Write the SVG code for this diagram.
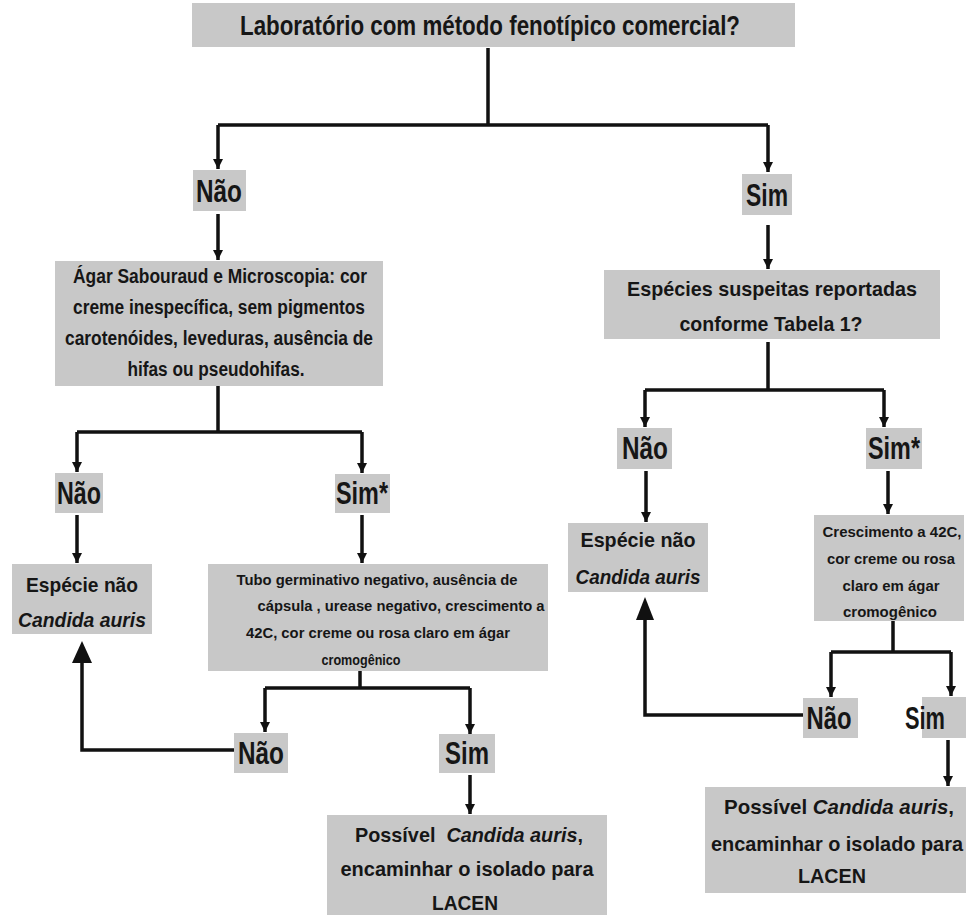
<svg xmlns="http://www.w3.org/2000/svg" width="966" height="915" viewBox="0 0 966 915">
<style>
.box{fill:#c8c8c8}
text{font-family:"Liberation Sans",Arial,sans-serif;font-weight:bold;fill:#161616;text-anchor:middle}
.t24{font-size:27px}
.lab{font-size:31px}
.t18{font-size:20px}
.t20{font-size:21px}
.t14{font-size:15.5px}
.ln{fill:none;stroke:#111;stroke-width:3.5}
.ar{fill:none;stroke:#111;stroke-width:3.5;marker-end:url(#ah)}
.big{fill:#111}
</style>
<defs>
<marker id="ah" markerUnits="userSpaceOnUse" markerWidth="12" markerHeight="10" refX="10" refY="5" orient="auto">
<path d="M0,0 L10,5 L0,10 z" fill="#111"/>
</marker>
</defs>
<rect width="966" height="915" fill="#fff"/>

<g id="connectors">
<path class="ln" d="M488,48 V125 M218,125 H768"/>
<path class="ar" d="M218,125 V169"/>
<path class="ar" d="M768,125 V172"/>
<path class="ar" d="M218,214 V260"/>
<path class="ar" d="M768,225 V269"/>
<path class="ln" d="M218,386 V432 M77,432 H362"/>
<path class="ar" d="M77,432 V472"/>
<path class="ar" d="M362,432 V473"/>
<path class="ar" d="M77,515 V563"/>
<path class="ar" d="M362,515 V563"/>
<path class="ln" d="M360,671 V688 M265,688 H470"/>
<path class="ar" d="M265,688 V732"/>
<path class="ar" d="M470,688 V734"/>
<path class="ln" d="M234,750 H82 V660"/>
<polygon class="big" points="72,663 92,663 82,641"/>
<path class="ar" d="M470,775 V814"/>
<path class="ln" d="M768,342 V390 M645,390 H884"/>
<path class="ar" d="M645,390 V427"/>
<path class="ar" d="M884,390 V427"/>
<path class="ar" d="M646,471 V522"/>
<path class="ar" d="M888,471 V514"/>
<path class="ln" d="M893,621 V652 M831,652 H951"/>
<path class="ar" d="M831,652 V697"/>
<path class="ar" d="M951,652 V696"/>
<path class="ln" d="M803,715 H645 V618"/>
<polygon class="big" points="636,620 654,620 645,597"/>
<path class="ar" d="M948,740 V786"/>
</g>

<g id="n-top">
<rect class="box" x="192" y="3" width="603" height="44"/>
<text class="t24" x="490" y="35" textLength="500" lengthAdjust="spacingAndGlyphs">Laboratório com método fenotípico comercial?</text>
</g>

<g id="n-nao1">
<rect class="box" x="193" y="170" width="53" height="41"/>
<text class="lab" x="219" y="202" textLength="46" lengthAdjust="spacingAndGlyphs">Não</text>
</g>

<g id="n-sim1">
<rect class="box" x="742" y="174" width="50" height="41"/>
<text class="lab" x="767" y="206" textLength="42" lengthAdjust="spacingAndGlyphs">Sim</text>
</g>

<g id="n-agar">
<rect class="box" x="55" y="261" width="328" height="125"/>
<text class="t18" x="220" y="283" textLength="294" lengthAdjust="spacingAndGlyphs">Ágar Sabouraud e Microscopia: cor</text>
<text class="t18" x="219" y="314" textLength="292" lengthAdjust="spacingAndGlyphs">creme inespecífica, sem pigmentos</text>
<text class="t18" x="219" y="345" textLength="308" lengthAdjust="spacingAndGlyphs">carotenóides, leveduras, ausência de</text>
<text class="t18" x="216" y="376" textLength="177" lengthAdjust="spacingAndGlyphs">hifas ou pseudohifas.</text>
</g>

<g id="n-especies">
<rect class="box" x="604" y="270" width="336" height="69"/>
<text class="t20" x="772" y="296" textLength="290" lengthAdjust="spacingAndGlyphs">Espécies suspeitas reportadas</text>
<text class="t20" x="771" y="331" textLength="183" lengthAdjust="spacingAndGlyphs">conforme Tabela 1?</text>
</g>

<g id="n-nao2l">
<rect class="box" x="55" y="473" width="48" height="40"/>
<text class="lab" x="79" y="504" textLength="44" lengthAdjust="spacingAndGlyphs">Não</text>
</g>

<g id="n-sim2l">
<rect class="box" x="335" y="474" width="55" height="39"/>
<text class="lab" x="362" y="504" textLength="52" lengthAdjust="spacingAndGlyphs">Sim*</text>
</g>

<g id="n-esp-l">
<rect class="box" x="12" y="564" width="140" height="70"/>
<text class="t20" x="82" y="592" textLength="112" lengthAdjust="spacingAndGlyphs">Espécie não</text>
<text class="t20" x="82" y="627" textLength="128" lengthAdjust="spacingAndGlyphs" font-style="italic">Candida auris</text>
</g>

<g id="n-tubo">
<rect class="box" x="208" y="564" width="340" height="107"/>
<text class="t14" x="377" y="585" textLength="281" lengthAdjust="spacingAndGlyphs">Tubo germinativo negativo, ausência de</text>
<text class="t14" x="401" y="611" textLength="287" lengthAdjust="spacingAndGlyphs">cápsula  , urease negativo, crescimento a</text>
<text class="t14" x="378" y="638" textLength="264" lengthAdjust="spacingAndGlyphs">42C, cor creme ou rosa claro em ágar</text>
<text class="t14" x="361" y="665" textLength="79" lengthAdjust="spacingAndGlyphs">cromogênico</text>
</g>

<g id="n-nao3l">
<rect class="box" x="234" y="733" width="54" height="40"/>
<text class="lab" x="261" y="764" textLength="46" lengthAdjust="spacingAndGlyphs">Não</text>
</g>

<g id="n-sim3l">
<rect class="box" x="439" y="734" width="56" height="39"/>
<text class="lab" x="467" y="764" textLength="44" lengthAdjust="spacingAndGlyphs">Sim</text>
</g>

<g id="n-poss-l">
<rect class="box" x="327" y="815" width="280" height="100"/>
<text class="t20" x="469" y="842" textLength="228" lengthAdjust="spacingAndGlyphs" xml:space="preserve">Possível  <tspan font-style="italic">Candida auris</tspan>,</text>
<text class="t20" x="467" y="876" textLength="253" lengthAdjust="spacingAndGlyphs">encaminhar o isolado para</text>
<text class="t20" x="465" y="910" textLength="66" lengthAdjust="spacingAndGlyphs">LACEN</text>
</g>

<g id="n-nao2r">
<rect class="box" x="617" y="428" width="55" height="41"/>
<text class="lab" x="645" y="459" textLength="46" lengthAdjust="spacingAndGlyphs">Não</text>
</g>

<g id="n-sim2r">
<rect class="box" x="866" y="428" width="56" height="41"/>
<text class="lab" x="894" y="459" textLength="52" lengthAdjust="spacingAndGlyphs">Sim*</text>
</g>

<g id="n-esp-r">
<rect class="box" x="568" y="523" width="140" height="69"/>
<text class="t20" x="638" y="547" textLength="115" lengthAdjust="spacingAndGlyphs">Espécie não</text>
<text class="t20" x="638" y="584" textLength="125" lengthAdjust="spacingAndGlyphs" font-style="italic">Candida auris</text>
</g>

<g id="n-cresc">
<rect class="box" x="814" y="515" width="150" height="106"/>
<text class="t14" x="892" y="537" textLength="139" lengthAdjust="spacingAndGlyphs">Crescimento a 42C,</text>
<text class="t14" x="891" y="564" textLength="128" lengthAdjust="spacingAndGlyphs">cor creme ou rosa</text>
<text class="t14" x="891" y="591" textLength="97" lengthAdjust="spacingAndGlyphs">claro em ágar</text>
<text class="t14" x="890" y="617" textLength="94" lengthAdjust="spacingAndGlyphs">cromogênico</text>
</g>

<g id="n-nao3r">
<rect class="box" x="803" y="698" width="55" height="40"/>
<text class="lab" x="829" y="729" textLength="45" lengthAdjust="spacingAndGlyphs">Não</text>
</g>

<g id="n-sim3r">
<rect class="box" x="922" y="697" width="50" height="41"/>
<text class="lab" x="925" y="729" textLength="40" lengthAdjust="spacingAndGlyphs" text-anchor="start">Sim</text>
</g>

<g id="n-poss-r">
<rect class="box" x="705" y="787" width="265" height="106"/>
<text class="t20" x="839" y="814" textLength="230" lengthAdjust="spacingAndGlyphs">Possível <tspan font-style="italic">Candida auris</tspan>,</text>
<text class="t20" x="837" y="851" textLength="252" lengthAdjust="spacingAndGlyphs">encaminhar o isolado para</text>
<text class="t20" x="832" y="883" textLength="68" lengthAdjust="spacingAndGlyphs">LACEN</text>
</g>
</svg>
